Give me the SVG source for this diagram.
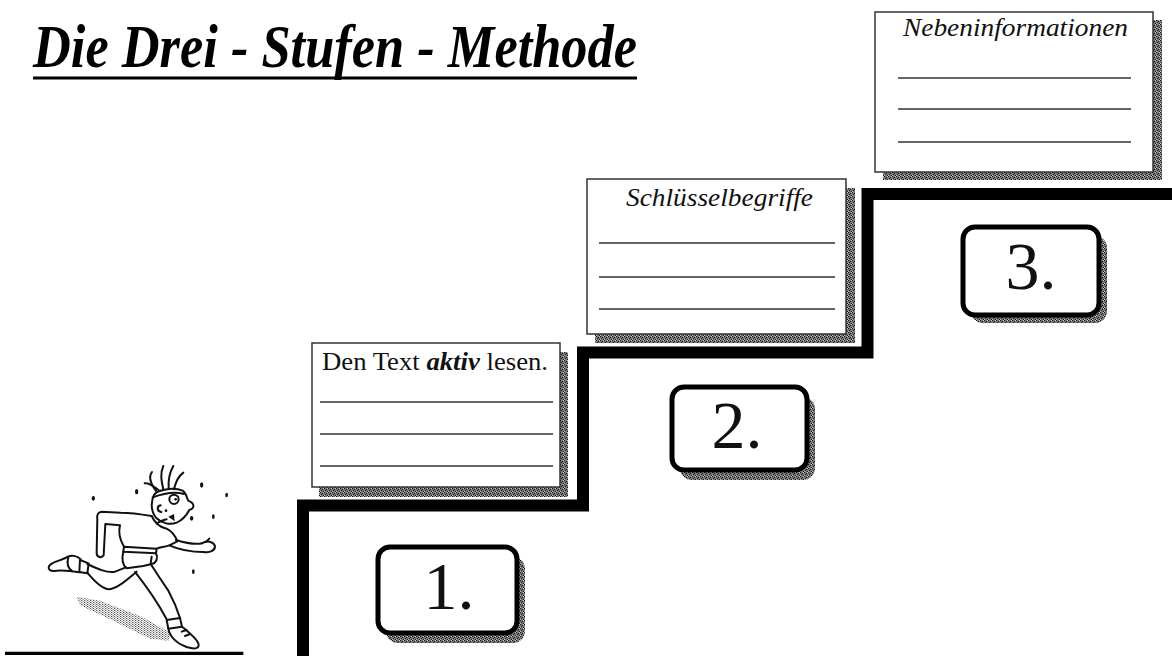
<svg xmlns="http://www.w3.org/2000/svg" width="1172" height="656" viewBox="0 0 1172 656">
  <defs>
    <!-- dithered grey used for drop shadows -->
    <pattern id="grain" width="4" height="4" patternUnits="userSpaceOnUse">
      <rect width="4" height="4" fill="#7a7a7a"/>
      <rect x="0" y="0" width="1" height="1" fill="#111"/>
      <rect x="2" y="1" width="1" height="1" fill="#111"/>
      <rect x="1" y="2" width="1" height="1" fill="#222"/>
      <rect x="3" y="3" width="1" height="1" fill="#111"/>
      <rect x="3" y="0" width="1" height="1" fill="#ccc"/>
      <rect x="0" y="3" width="1" height="1" fill="#bbb"/>
    </pattern>
    <pattern id="dots" width="9" height="6" patternUnits="userSpaceOnUse">
      <rect x="0" y="0" width="4" height="3" fill="#555"/>
      <rect x="5" y="3" width="3" height="3" fill="#777"/>
    </pattern>
  </defs>
  <style>
    .title { font-family: "Liberation Serif", "Times New Roman", serif; font-weight: bold; font-style: italic; font-size: 62px; fill: #000; }
    .label { font-family: "Liberation Serif", "Times New Roman", serif; font-size: 26px; fill: #111; }
    .it { font-style: italic; }
    .bi { font-style: italic; font-weight: bold; }
    .num { font-family: "Liberation Serif", "Times New Roman", serif; font-size: 68px; fill: #111; text-anchor: middle; }
    .card { fill: #fff; stroke: #333; stroke-width: 1.5; }
    .shadow { fill: url(#grain); }
    .rule { stroke: #333; stroke-width: 1.5; }
    .box { fill: #fff; stroke: #000; stroke-width: 5; }
    .stair { fill: none; stroke: #000; stroke-width: 12; stroke-linejoin: miter; }
    .ink { fill: none; stroke: #111; stroke-width: 6; stroke-linecap: round; stroke-linejoin: round; }
    .drop { fill: #111; }
  </style>

  <!-- heading -->
  <g id="title">
    <text class="title" x="33" y="67" textLength="604" lengthAdjust="spacingAndGlyphs">Die Drei - Stufen - Methode</text>
    <line x1="33" y1="78" x2="637" y2="78" stroke="#000" stroke-width="3"/>
  </g>

  <!-- staircase -->
  <g id="connectors">
    <path class="stair" d="M303 656 V505.5 H583 V352.5 H867.5 V194 H1172"/>
  </g>

  <!-- step 1 card -->
  <g id="card1">
    <rect class="shadow" x="319" y="352" width="249" height="145"/>
    <rect class="card" x="312" y="343" width="248" height="144"/>
    <text class="label" x="322" y="370" textLength="226" lengthAdjust="spacingAndGlyphs">Den Text <tspan class="bi">aktiv</tspan> lesen.</text>
    <line class="rule" x1="320" y1="402" x2="553" y2="402"/>
    <line class="rule" x1="320" y1="434" x2="553" y2="434"/>
    <line class="rule" x1="320" y1="466" x2="553" y2="466"/>
  </g>

  <!-- step 2 card -->
  <g id="card2">
    <rect class="shadow" x="595" y="188" width="260" height="155"/>
    <rect class="card" x="587" y="179" width="259" height="155"/>
    <text class="label it" x="626" y="206" textLength="187" lengthAdjust="spacingAndGlyphs">Schlüsselbegriffe</text>
    <line class="rule" x1="599" y1="243" x2="835" y2="243"/>
    <line class="rule" x1="599" y1="277" x2="835" y2="277"/>
    <line class="rule" x1="599" y1="309" x2="835" y2="309"/>
  </g>

  <!-- step 3 card -->
  <g id="card3">
    <rect class="shadow" x="883" y="20" width="279" height="160"/>
    <rect class="card" x="875" y="12" width="278" height="160"/>
    <text class="label it" x="903" y="36" textLength="225" lengthAdjust="spacingAndGlyphs" style="font-size:25px">Nebeninformationen</text>
    <line class="rule" x1="898" y1="78" x2="1131" y2="78"/>
    <line class="rule" x1="898" y1="109" x2="1131" y2="109"/>
    <line class="rule" x1="898" y1="142" x2="1131" y2="142"/>
  </g>

  <!-- step numbers -->
  <g id="step1">
    <rect class="shadow" x="386" y="557" width="139" height="86" rx="12"/>
    <rect class="box" x="378" y="547" width="139" height="86" rx="12"/>
    <text class="num" x="449" y="609">1.</text>
  </g>
  <g id="step2">
    <rect class="shadow" x="680" y="397" width="135" height="83" rx="12"/>
    <rect class="box" x="672" y="387" width="135" height="83" rx="12"/>
    <text class="num" x="737" y="448">2.</text>
  </g>
  <g id="step3">
    <rect class="shadow" x="971" y="236" width="136" height="87" rx="12"/>
    <rect class="box" x="963" y="227" width="136" height="88" rx="12"/>
    <text class="num" x="1031" y="289">3.</text>
  </g>

  <!-- running figure, drawn at 3x and scaled down -->
  <g id="runner" transform="translate(0,440) scale(0.3333)">
    <!-- ground shadow -->
    <path d="M230 470 L300 482 L420 528 L512 578 L505 602 L450 596 L330 538 L240 496 Z" fill="url(#dots)"/>
    <!-- hair -->
    <path class="ink" d="M470 155 C452 132 444 112 456 96"/>
    <path class="ink" d="M476 150 C460 140 448 126 434 130"/>
    <path class="ink" d="M490 148 C484 122 480 100 490 78"/>
    <path class="ink" d="M506 145 C504 118 510 96 520 78"/>
    <path class="ink" d="M522 148 C527 126 536 108 550 98"/>
    <!-- head -->
    <path class="ink" d="M462 165 C470 150 520 140 548 152 C560 160 560 175 565 182 C585 190 585 205 568 210 C560 225 548 240 530 248 C510 256 485 250 470 235 C455 220 450 190 462 165 Z" fill="#fff"/>
    <path class="ink" d="M458 172 C490 160 525 154 552 162"/>
    <circle class="ink" cx="522" cy="178" r="14"/>
    <circle class="drop" cx="527" cy="178" r="4"/>
    <path class="ink" d="M482 196 C470 198 470 214 484 216"/>
    <path d="M505 230 L522 222 L524 244 Z" fill="#111"/>
    <circle class="drop" cx="498" cy="212" r="4"/>
    <!-- shirt and back arm -->
    <path class="ink" d="M455 228 C420 222 390 218 362 218 L305 215 C295 215 290 225 292 235 L290 340 C290 352 305 356 311 346 L316 252 L360 256 C354 280 360 300 372 320"/>
    <path class="ink" d="M455 228 C465 250 480 262 500 266 C512 272 525 285 532 304 L508 316 C498 320 482 322 470 326"/>
    <path class="ink" d="M470 250 C480 245 490 240 500 238"/>
    <!-- front arm and hand -->
    <path class="ink" d="M528 300 C560 310 588 314 606 310"/>
    <path class="ink" d="M508 316 C540 330 580 336 610 336"/>
    <path class="ink" d="M606 310 C620 300 640 305 645 318 C646 330 632 340 610 336"/>
    <path class="ink" d="M618 306 L628 296"/>
    <!-- shorts -->
    <path class="ink" d="M372 320 L470 326 L468 340 L370 335 Z"/>
    <path class="ink" d="M370 335 C365 355 368 375 380 385 L430 378 L455 372 C470 370 475 352 468 340"/>
    <path class="ink" d="M455 350 L452 372"/>
    <!-- back leg and shoe -->
    <path class="ink" d="M262 372 C290 385 320 400 345 395 L378 382"/>
    <path class="ink" d="M262 398 C280 420 305 445 325 448 C350 448 380 420 410 395"/>
    <path class="ink" d="M240 360 L266 370 L262 400 L238 396 Z"/>
    <path class="ink" d="M242 358 C230 346 214 345 204 350 C190 360 160 364 150 375 C140 386 150 396 170 392 C200 390 222 394 240 397"/>
    <path class="ink" d="M205 352 C200 370 205 385 215 392"/>
    <!-- front leg and shoe -->
    <path class="ink" d="M405 396 C432 430 470 482 500 538"/>
    <path class="ink" d="M452 372 C470 400 490 430 505 452 C516 472 530 502 540 534"/>
    <path class="ink" d="M500 540 L540 534 L546 560 L505 566 Z"/>
    <path class="ink" d="M505 566 C510 590 530 610 560 621 C585 629 600 626 595 610 C590 596 570 580 546 560"/>
    <path class="ink" d="M545 575 L560 570 M555 588 L570 582"/>
    <!-- sweat drops -->
    <ellipse class="drop" cx="410" cy="155" rx="5" ry="8"/>
    <ellipse class="drop" cx="280" cy="175" rx="5" ry="7"/>
    <ellipse class="drop" cx="605" cy="135" rx="5" ry="8"/>
    <ellipse class="drop" cx="680" cy="165" rx="4" ry="7"/>
    <ellipse class="drop" cx="640" cy="230" rx="4" ry="7"/>
    <ellipse class="drop" cx="575" cy="235" rx="5" ry="7"/>
    <ellipse class="drop" cx="580" cy="395" rx="4" ry="7"/>
    <!-- floor line -->
    <line x1="15" y1="640" x2="730" y2="640" stroke="#000" stroke-width="10"/>
  </g>
</svg>
